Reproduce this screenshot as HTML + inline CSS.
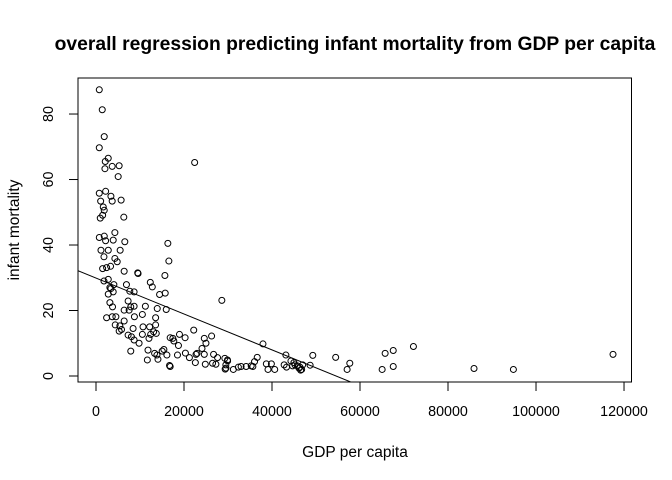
<!DOCTYPE html>
<html><head><meta charset="utf-8"><style>
html,body{margin:0;padding:0;background:#fff;}
svg{display:block;font-family:"Liberation Sans",Arial,sans-serif;}
</style></head><body>
<svg id="chart" width="672" height="480" viewBox="0 0 672 480" xmlns="http://www.w3.org/2000/svg">
<rect x="0" y="0" width="672" height="480" fill="#fff"/>
<text x="355" y="50" text-anchor="middle" font-size="19.3" font-weight="bold">overall regression predicting infant mortality from GDP per capita</text>
<text x="355" y="457" text-anchor="middle" font-size="15.5">GDP per capita</text>
<text transform="translate(19,230) rotate(-90)" text-anchor="middle" font-size="15.5">infant mortality</text>
<g id="axes"></g>
<g id="marks"></g>
</svg>
<script>
const gdp = [745,1420,1870,745,2780,2100,2030,3680,5260,5040,22420,745,2190,3390,1060,3680,5710,1650,1870,1510,970,6320,
750,1880,4290,2180,3910,6550,16330,1130,2790,5490,1810,4290,4820,16560,1510,2410,3310,6400,9480,9560,15660,1810,2790,4060,3390,3160,6920,12340,12800,2790,3910,7680,8660,14450,15730,28600,3160,7300,3760,6400,7900,8660,11220,13920,15960,7530,2410,3690,4520,8730,10540,13550,4370,5420,6400,10690,12190,13550,5270,5800,8430,13100,13700,7300,8050,10540,12420,8660,9790,12040,16860,17460,18970,22210,20250,24610,26270,17690,24990,11820,15430,15050,18740,24090,7900,13320,13850,16110,18520,20320,22730,21230,22960,24610,26720,27620,29280,29880,11670,14080,16710,16860,22580,24840,26490,27250,29510,29360,
37950,43150,44300,45200,46360,46740,29910,29530,31210,32360,32970,34120,35270,35650,36030,36640,38710,39860,39090,40620,42760,43300,44680,44980,45750,46130,46510,46970,48660,49270,54470,57680,57070,65710,67550,65030,67550,72140,85910,94860,117500];
const mortality = [87.4,81.3,73.1,69.7,66.5,65.5,63.3,64,64.2,60.9,65.2,55.8,56.4,54.9,53.4,53.4,53.7,51.6,50.6,49.1,48.2,48.5,
42.3,42.7,43.8,41.3,41.5,41.0,40.5,38.4,38.4,38.4,36.4,35.9,34.9,35.1,32.8,33.1,33.5,32.0,31.5,31.3,30.7,29.0,29.5,27.9,26.7,27.0,27.9,28.6,27.2,25.0,25.7,25.9,25.7,24.9,25.3,23.1,22.4,22.9,21.1,20.1,21.1,21.3,21.3,20.6,20.3,20.1,17.8,18.1,18.1,18.1,18.8,17.8,15.6,15.3,16.8,15.0,15.0,15.6,13.7,14.2,14.5,13.5,13.0,12.5,12.0,12.7,12.7,11.0,10.0,11.5,11.7,11.5,12.7,14.0,11.7,11.5,12.2,10.7,10.0,7.9,8.1,7.6,9.3,8.4,7.6,6.9,6.4,6.4,6.4,7.0,6.6,5.6,6.9,6.6,6.6,5.6,5.4,4.9,4.9,5.1,3.2,2.9,4.1,3.6,3.9,3.6,3.4,2.1,
9.8,6.4,4.6,3.4,2.7,2.0,4.6,2.4,2.0,2.7,2.9,2.9,3.1,2.9,4.4,5.7,3.7,3.7,2.0,2.0,3.4,2.7,3.1,4.1,3.1,2.4,1.8,3.4,3.3,6.3,5.7,3.9,2.0,6.9,7.8,2.0,2.9,9.0,2.3,2.0,6.6];
const xTicks = [0,20000,40000,60000,80000,100000,120000];
const yTicks = [0,20,40,60,80];
const regIntercept = 29.9;
const regSlope = -0.000548;
const xDomain = [-4090, 121700];
const yDomain = [-1.83, 91.0];

const L=78,R=631.5,T=78,B=382;
const sx = v => L + (v - xDomain[0]) / (xDomain[1] - xDomain[0]) * (R - L);
const sy = v => B - (v - yDomain[0]) / (yDomain[1] - yDomain[0]) * (B - T);
const NS = 'http://www.w3.org/2000/svg';
function mk(tag, attrs, parent){const e=document.createElementNS(NS,tag);for(const k in attrs)e.setAttribute(k,attrs[k]);parent.appendChild(e);return e;}
const axes=document.getElementById('axes'), marks=document.getElementById('marks');
const box = mk('rect',{x:L,y:T,width:R-L,height:B-T,fill:'none',stroke:'#000','stroke-width':1},axes);


const xax = mk('line',{x1:sx(xTicks[0]),x2:sx(xTicks[xTicks.length-1]),y1:B,y2:B,stroke:'#000'},axes);


xTicks.forEach(t=>{
  const l=mk('line',{x1:sx(t),x2:sx(t),y1:B,y2:B+9,stroke:'#000'},axes);
  
  
  const tx=mk('text',{x:sx(t),y:B+34,'text-anchor':'middle','font-size':14.3},axes);
  tx.textContent=String(t);
  
  
});
const yax = mk('line',{x1:L,x2:L,y1:sy(yTicks[0]),y2:sy(yTicks[yTicks.length-1]),stroke:'#000'},axes);


yTicks.forEach(t=>{
  const l=mk('line',{x1:L-9,x2:L,y1:sy(t),y2:sy(t),stroke:'#000'},axes);
  
  
  const tx=mk('text',{'text-anchor':'middle','font-size':14.3,transform:`translate(${L-25},${sy(t)}) rotate(-90)`},axes);
  tx.textContent=String(t);
  
  
});
const cp = mk('clipPath',{id:'clip'},axes);
mk('rect',{x:L,y:T,width:R-L,height:B-T},cp);
gdp.forEach((g,i)=>{
  const c=mk('circle',{cx:sx(g),cy:sy(mortality[i]),r:3,fill:'none',stroke:'#000','stroke-width':1},marks);
  
  
});
const reg = mk('line',{x1:sx(xDomain[0]),y1:sy(regIntercept+regSlope*xDomain[0]),x2:sx(xDomain[1]),y2:sy(regIntercept+regSlope*xDomain[1]),stroke:'#000','stroke-width':1,'clip-path':'url(#clip)'},marks);


</script>
</body></html>
